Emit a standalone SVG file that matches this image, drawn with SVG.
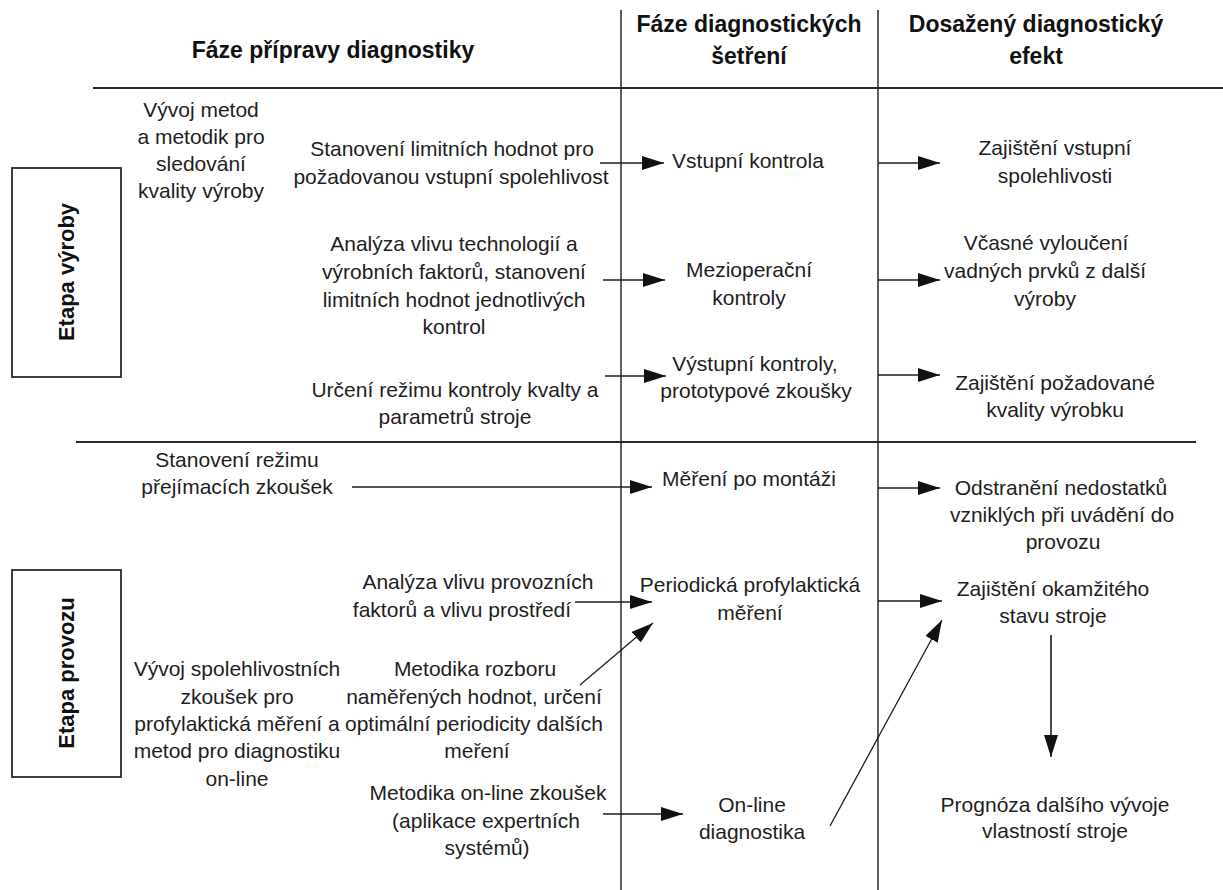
<svg xmlns="http://www.w3.org/2000/svg" width="1223" height="890" viewBox="0 0 1223 890">
<style>
.t{font-family:"Liberation Sans",Arial,sans-serif;font-size:21px;fill:#1e1e1e;text-anchor:middle}
.h{font-family:"Liberation Sans",Arial,sans-serif;font-size:23px;font-weight:bold;fill:#111;text-anchor:middle}
.b{font-family:"Liberation Sans",Arial,sans-serif;font-size:22px;font-weight:bold;fill:#111;text-anchor:middle}
.grid{stroke:#2a2a2a;stroke-width:2;fill:none}
.vl{stroke:#2a2a2a;stroke-width:1.5;fill:none}
.box{stroke:#2a2a2a;stroke-width:1.8;fill:#fff}
.c{stroke:#1e1e1e;stroke-width:1.6;fill:none;marker-end:url(#ah)}
.cl{stroke:#1e1e1e;stroke-width:1.3;fill:none;marker-end:url(#ah)}
</style>
<defs>
<marker id="ah" markerUnits="userSpaceOnUse" markerWidth="22" markerHeight="14" refX="22" refY="7" orient="auto">
<path d="M0,0 L22,7 L0,14 z" fill="#111"/>
</marker>
</defs>
<rect width="1223" height="890" fill="#fff"/>
<g id="grid">
<line class="grid" x1="93" y1="88" x2="1223" y2="88"/>
<line class="grid" x1="76" y1="442" x2="1196" y2="442"/>
<line class="vl" x1="621" y1="10" x2="621" y2="890"/>
<line class="vl" x1="878" y1="10" x2="878" y2="890"/>
</g>
<g id="headers">
<text class="h" x="333" y="58">Fáze přípravy diagnostiky</text>
<text class="h" x="749" y="32">Fáze diagnostických</text>
<text class="h" x="749" y="64">šetření</text>
<text class="h" x="1036" y="32">Dosažený diagnostický</text>
<text class="h" x="1036" y="64">efekt</text>
</g>
<g id="stage-vyroba">
<rect class="box" x="12" y="168" width="109" height="209"/>
<text class="b" x="74" y="272" transform="rotate(-90 74 272)">Etapa výroby</text>
</g>
<g id="stage-provoz">
<rect class="box" x="12" y="570" width="109" height="207"/>
<text class="b" x="74" y="673" transform="rotate(-90 74 673)">Etapa provozu</text>
</g>
<g id="n-vyvoj-metod">
<text class="t"><tspan x="201" y="117">Vývoj metod</tspan><tspan x="201" y="144">a metodik pro</tspan><tspan x="201" y="171">sledování</tspan><tspan x="201" y="198">kvality výroby</tspan></text>
</g>
<g id="n-limitni-hodnoty">
<text class="t"><tspan x="452" y="156">Stanovení limitních hodnot pro</tspan><tspan x="451" y="184">požadovanou vstupní spolehlivost</tspan></text>
</g>
<g id="n-analyza-tech">
<text class="t"><tspan x="454" y="251">Analýza vlivu technologií a</tspan><tspan x="454" y="279">výrobních faktorů, stanovení</tspan><tspan x="454" y="307">limitních hodnot jednotlivých</tspan><tspan x="454" y="334">kontrol</tspan></text>
</g>
<g id="n-urceni-rezimu">
<text class="t"><tspan x="455" y="397">Určení režimu kontroly kvalty a</tspan><tspan x="455" y="424">parametrů stroje</tspan></text>
</g>
<g id="n-prejimaci">
<text class="t"><tspan x="237" y="467">Stanovení režimu</tspan><tspan x="237" y="494">přejímacích zkoušek</tspan></text>
</g>
<g id="n-analyza-provoz">
<text class="t"><tspan x="478" y="589">Analýza vlivu provozních</tspan><tspan x="462" y="617">faktorů a vlivu prostředí</tspan></text>
</g>
<g id="n-vyvoj-spolehl">
<text class="t"><tspan x="237" y="676">Vývoj spolehlivostních</tspan><tspan x="237" y="704">zkoušek pro</tspan><tspan x="237" y="731">profylaktická měření a</tspan><tspan x="237" y="758">metod pro diagnostiku</tspan><tspan x="237" y="786">on-line</tspan></text>
</g>
<g id="n-metodika-rozboru">
<text class="t"><tspan x="475" y="676">Metodika rozboru</tspan><tspan x="474" y="704">naměřených hodnot, určení</tspan><tspan x="474" y="731">optimální periodicity dalších</tspan><tspan x="477" y="758">meření</tspan></text>
</g>
<g id="n-metodika-online">
<text class="t"><tspan x="488" y="800">Metodika on-line zkoušek</tspan><tspan x="486" y="828">(aplikace expertních</tspan><tspan x="487" y="855">systémů)</tspan></text>
</g>
<g id="n-vstupni-kontrola">
<text class="t" x="748" y="168">Vstupní kontrola</text>
</g>
<g id="n-mezioperacni">
<text class="t"><tspan x="749" y="277">Mezioperační</tspan><tspan x="749" y="305">kontroly</tspan></text>
</g>
<g id="n-vystupni">
<text class="t"><tspan x="755" y="371">Výstupní kontroly,</tspan><tspan x="756" y="398">prototypové zkoušky</tspan></text>
</g>
<g id="n-mereni-montaz">
<text class="t" x="749" y="486">Měření po montáži</text>
</g>
<g id="n-periodicka">
<text class="t"><tspan x="750" y="592">Periodická profylaktická</tspan><tspan x="750" y="620">měření</tspan></text>
</g>
<g id="n-online-diag">
<text class="t"><tspan x="752" y="812">On-line</tspan><tspan x="752" y="839">diagnostika</tspan></text>
</g>
<g id="n-vstupni-spolehl">
<text class="t"><tspan x="1055" y="155">Zajištění vstupní</tspan><tspan x="1055" y="183">spolehlivosti</tspan></text>
</g>
<g id="n-vcasne">
<text class="t"><tspan x="1046" y="250">Včasné vyloučení</tspan><tspan x="1045" y="278">vadných prvků z další</tspan><tspan x="1045" y="306">výroby</tspan></text>
</g>
<g id="n-pozadovana-kvalita">
<text class="t"><tspan x="1055" y="390">Zajištění požadované</tspan><tspan x="1055" y="417">kvality výrobku</tspan></text>
</g>
<g id="n-odstraneni">
<text class="t"><tspan x="1061" y="495">Odstranění nedostatků</tspan><tspan x="1062" y="522">vzniklých při uvádění do</tspan><tspan x="1063" y="549">provozu</tspan></text>
</g>
<g id="n-okamzity-stav">
<text class="t"><tspan x="1053" y="596">Zajištění okamžitého</tspan><tspan x="1053" y="623">stavu stroje</tspan></text>
</g>
<g id="n-prognoza">
<text class="t"><tspan x="1055" y="812">Prognóza dalšího vývoje</tspan><tspan x="1055" y="838">vlastností stroje</tspan></text>
</g>
<g id="connectors">
<line class="c" x1="600" y1="163" x2="664" y2="163"/>
<line class="c" x1="878" y1="163" x2="940" y2="163"/>
<line class="c" x1="603" y1="280" x2="665" y2="280"/>
<line class="c" x1="878" y1="280" x2="940" y2="280"/>
<line class="c" x1="605" y1="376" x2="666" y2="376"/>
<line class="c" x1="878" y1="375" x2="940" y2="375"/>
<line class="c" x1="352" y1="487" x2="652" y2="487"/>
<line class="c" x1="878" y1="488" x2="940" y2="488"/>
<line class="c" x1="575" y1="602" x2="652" y2="602"/>
<line class="c" x1="878" y1="601" x2="942" y2="601"/>
<line class="cl" x1="580" y1="685" x2="653" y2="623"/>
<line class="c" x1="603" y1="814" x2="683" y2="814"/>
<line class="cl" x1="830" y1="826" x2="942" y2="620"/>
<line class="c" x1="1051" y1="635" x2="1051" y2="757"/>
</g>
</svg>
